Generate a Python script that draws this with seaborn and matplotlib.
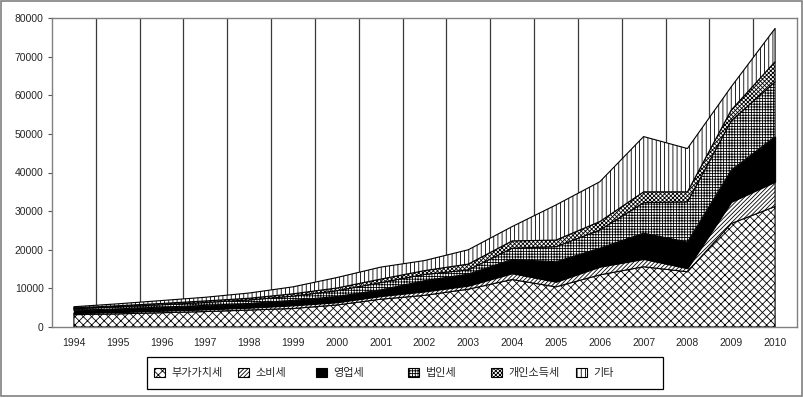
import numpy as np
import pandas as pd
import matplotlib
matplotlib.use("Agg")
import matplotlib.pyplot as plt
from matplotlib.patches import Rectangle
import seaborn as sns

years = ["1994", "1995", "1996", "1997", "1998", "1999", "2000", "2001", "2002",
         "2003", "2004", "2005", "2006", "2007", "2008", "2009", "2010"]
vat = [3200, 3400, 3700, 4000, 4400, 4800, 5700, 7200, 8200, 9800, 12300, 10400, 13500, 15600, 14300, 26800, 31200]
consumption = [400, 450, 500, 550, 600, 800, 700, 800, 1000, 900, 1600, 1300, 2100, 2000, 900, 5600, 6400]
business = [700, 850, 950, 1050, 1100, 1300, 1500, 1600, 2800, 3000, 3600, 5200, 4800, 6700, 6800, 8200, 11700]
corporate = [400, 500, 600, 750, 900, 1100, 1500, 1900, 1600, 1100, 2900, 3900, 4700, 7900, 10400, 12800, 14200]
personal = [250, 300, 350, 400, 450, 600, 700, 900, 1000, 1500, 1900, 1700, 2200, 2800, 2600, 2800, 5200]
other = [300, 500, 750, 950, 1350, 1800, 2700, 3100, 2600, 3700, 3700, 9100, 10300, 14300, 11200, 6000, 8600]
series_names = ["부가가치세", "소비세", "영업세", "법인세", "개인소득세", "기타"]

df = pd.DataFrame({"year": years, series_names[0]: vat, series_names[1]: consumption,
                   series_names[2]: business, series_names[3]: corporate,
                   series_names[4]: personal, series_names[5]: other})

sns.set_theme(style="white")
plt.rcParams["font.family"] = ["Liberation Sans", "Noto Sans CJK KR", "DejaVu Sans"]
plt.rcParams["hatch.linewidth"] = 0.6
plt.rcParams["hatch.color"] = "black"

W, H = 804, 398
fig = plt.figure(figsize=(W / 100, H / 100), dpi=100)
fig.patch.set_facecolor("white")
ax = fig.add_axes([52 / W, 1 - 327 / H, 745 / W, 309 / H])

x = np.arange(len(years))
faces = ["white", "white", "black", "white", "white", "white"]
hatches = ["xxxx", "////////", None, "++++++", "xxxxxxxx", "||||"]
polys = ax.stackplot(x, *[df[n].values for n in series_names], colors=faces,
                     edgecolor="black", linewidth=0.8, zorder=3)
for p, h in zip(polys, hatches):
    if h:
        p.set_hatch(h)

for b in np.arange(0.5, len(years) - 1, 1.0):
    ax.axvline(b, color="#3a3a3a", lw=0.9, zorder=1)

ax.set_xlim(-0.5, len(years) - 0.5)
ax.set_ylim(0, 80000)
ax.set_yticks(np.arange(0, 80001, 10000))
ax.set_yticklabels([str(v) for v in range(0, 80001, 10000)], fontsize=7.5)
ax.set_xticks(x)
ax.set_xticklabels(years, fontsize=7.5)
ax.tick_params(axis="y", left=True, length=3, width=0.8, color="#555555", pad=3, direction="out")
ax.tick_params(axis="x", bottom=False, pad=2)
for s in ax.spines.values():
    s.set_color("#808080")
    s.set_linewidth(1.0)
ax.set_xlabel("")
ax.set_ylabel("")

# legend: frame + equally spaced entries like the spreadsheet legend
fig.patches.append(Rectangle((147 / W, 1 - 389 / H), 516 / W, 32 / H, transform=fig.transFigure,
                             fill=False, edgecolor="black", linewidth=0.9, zorder=5))
entry_x = [151, 235, 313, 405, 488, 573]
for poly, name, ex in zip(polys, series_names, entry_x):
    lg = fig.legend([poly], [name], loc="center left",
                    bbox_to_anchor=(ex / W, 1 - 373 / H), frameon=False,
                    handlelength=0.95, handleheight=0.95, handletextpad=0.6,
                    borderpad=0.3, borderaxespad=0,
                    prop={"family": ["Noto Sans CJK KR", "DejaVu Sans"], "size": 8})

fig.patches.append(Rectangle((1 / W, 1 - 396 / H), 801 / W, 395 / H, transform=fig.transFigure,
                             fill=False, edgecolor="#808080", linewidth=1.2))

fig.savefig("out.png", dpi=100, facecolor="white")
